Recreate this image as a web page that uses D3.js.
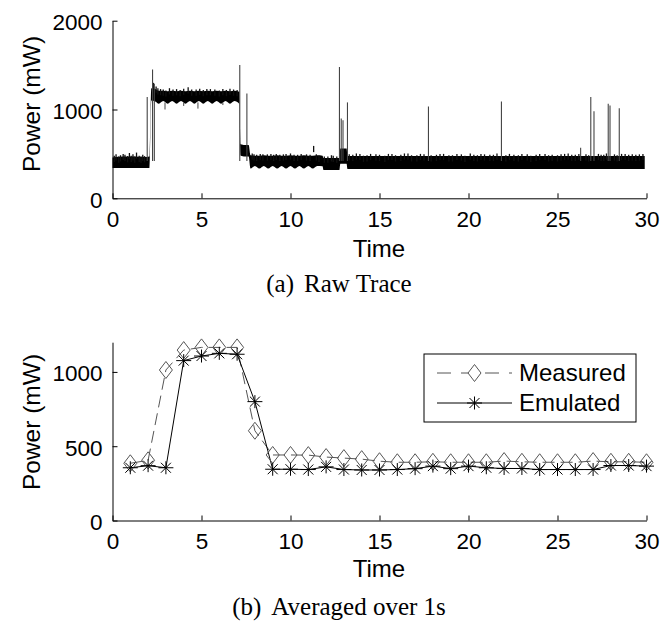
<!DOCTYPE html>
<html>
<head>
<meta charset="utf-8">
<script src="https://cdn.jsdelivr.net/npm/d3@7"></script>
<style>
  body { margin: 0; background: #fff; }
  text { font-family: "Liberation Sans", Arial, sans-serif; fill: #000; }
  .cap { font-family: "Liberation Serif", "Times New Roman", serif; }
  .ejes path, .ejes line { stroke: #000; stroke-width: 1; }
</style>
</head>
<body>
<div id="graf"></div>
<script>
// ---- panel (a): raw trace ----
// noisy band as time / low edge / high edge (mW)
var bandT  = [0, 0.6, 1.2, 1.9, 2.08, 2.18, 2.4, 2.6, 2.85, 3.1, 3.35, 3.6, 3.85, 4.1, 4.35, 4.6, 4.85, 5.1, 5.35, 5.6, 5.85, 6.1, 6.35, 6.6, 6.85, 7.12,
              7.2, 7.55, 7.65, 7.75, 8.0, 8.25, 8.5, 8.75, 9.0, 9.25, 9.5, 9.75, 10.0, 10.25, 10.5, 10.75, 11.0, 11.25, 11.5, 11.8,
              11.85, 12.75, 12.8, 13.15, 13.2, 29.9]
var bandLo = [340, 340, 340, 340, 340, 1100, 1090, 1065, 1095, 1065, 1095, 1065, 1095, 1065, 1095, 1065, 1095, 1065, 1095, 1065, 1095, 1065, 1095, 1065, 1095, 1065,
              480, 470, 470, 335, 365, 335, 365, 335, 365, 335, 365, 335, 365, 335, 365, 335, 365, 335, 365, 360,
              320, 320, 390, 390, 330, 330]
var bandHi = [460, 470, 470, 465, 470, 1240, 1230, 1210, 1210, 1205, 1210, 1205, 1210, 1205, 1210, 1205, 1210, 1205, 1210, 1205, 1210, 1205, 1210, 1205, 1210, 1200,
              610, 600, 600, 485, 480, 480, 485, 480, 480, 485, 480, 480, 485, 480, 480, 485, 480, 480, 485, 480,
              455, 455, 560, 560, 475, 475]

// tall single-sample spikes
var spikeT = [1.95, 2.25, 2.35, 7.15, 7.55, 12.75, 12.85, 12.95, 13.2, 17.75, 21.85, 26.3, 26.87, 27.05, 27.85, 27.95, 28.47]
var spikeV = [1140, 1450, 1290, 1500, 1180, 1480, 900, 880, 1080, 1035, 1090, 570, 1140, 980, 1065, 1045, 1015]

// short noise ticks along the top of the band
var noiseT = [0.1, 0.2, 0.35, 0.45, 0.6, 0.7, 0.85, 0.95, 1.05, 1.15, 1.25, 1.35, 1.5, 1.6, 1.7, 1.8,
              2.3, 2.45, 2.55, 2.7, 2.85, 3.0, 3.2, 3.4, 3.6, 3.8, 4.0, 4.25, 4.45, 4.7, 4.9, 5.1, 5.3, 5.5, 5.75, 6.0, 6.2, 6.4, 6.6, 6.8, 7.0,
              7.85, 7.95, 8.1, 8.3, 8.45, 8.7, 8.9, 9.05, 9.2, 9.4, 9.6, 9.75, 10.0, 10.2, 10.4, 10.6, 10.9, 11.1, 11.3, 11.45, 11.6, 11.9, 12.1, 12.3, 12.4, 12.6,
              13.3, 13.5, 13.7, 13.9, 14.1, 14.3, 14.5, 14.8, 15.0, 15.3, 15.5, 15.7, 15.9, 16.2, 16.4, 16.6, 16.8, 17.1, 17.3, 17.5, 17.9, 18.2, 18.4, 18.6, 18.9,
              19.1, 19.35, 19.6, 19.8, 20.1, 20.3, 20.5, 20.7, 20.9, 21.2, 21.4, 21.6, 22.1, 22.3, 22.55, 22.8, 23.0, 23.3, 23.5, 23.8, 24.0, 24.3, 24.5, 24.7,
              25.0, 25.2, 25.4, 25.6, 25.8, 26.0, 26.2, 26.6, 26.75, 27.3, 27.45, 27.6, 27.75, 28.2, 28.35, 28.6, 28.8, 29.0, 29.2, 29.4, 29.6, 29.8]
var noiseV = [480, 495, 470, 485, 500, 490, 475, 510, 480, 495, 470, 515, 480, 470, 490, 475,
              1300, 1260, 1240, 1230, 1225, 1215, 1240, 1225, 1230, 1220, 1235, 1250, 1225, 1225, 1235, 1220, 1230, 1230, 1225, 1215, 1230, 1220, 1235, 1225, 1220,
              505, 495, 490, 500, 495, 495, 500, 490, 500, 490, 495, 500, 505, 490, 490, 500, 495, 490, 590, 495, 480, 470, 470, 485, 480, 470,
              495, 490, 505, 500, 480, 485, 500, 495, 490, 480, 500, 500, 485, 490, 505, 505, 485, 485, 500, 495, 485, 490, 500, 500, 485,
              485, 500, 495, 480, 505, 490, 485, 500, 495, 490, 490, 505, 485, 500, 490, 485, 500, 495, 480, 490, 500, 500, 485, 490,
              485, 495, 500, 505, 490, 490, 500, 495, 485, 500, 490, 490, 505, 495, 485, 500, 500, 490, 495, 490, 495, 500]

// downward dips inside the high band
var dipT = [2.95, 4.0, 4.8, 6.2]
var dipV = [1000, 1040, 1010, 1050]

// ---- panel (b): averaged over 1 s ----
var segundos = [1, 2, 3, 4, 5, 6, 7, 8, 9, 10, 11, 12, 13, 14, 15, 16, 17, 18, 19, 20, 21, 22, 23, 24, 25, 26, 27, 28, 29, 30]
var measured = [385, 405, 1013, 1147, 1165, 1165, 1165, 604, 441, 441, 440, 427, 420, 413, 399, 392, 392, 395, 392, 392, 392, 400, 395, 392, 392, 392, 400, 395, 395, 392]
var emulated = [355, 369, 355, 1076, 1107, 1125, 1119, 800, 345, 345, 343, 361, 343, 340, 340, 343, 349, 366, 349, 366, 355, 350, 350, 343, 343, 343, 343, 370, 370, 366]
var series = ['Measured', 'Emulated']

var xTicks = [0, 5, 10, 15, 20, 25, 30]
var yTicksA = [0, 1000, 2000]
var yTicksB = [0, 500, 1000]

var ancho_total = 661, alto_total = 622
var svg = d3.select('#graf').append('svg')
  .attr('width', ancho_total).attr('height', alto_total)
  .style('display', 'block')

var x0 = 112.5, x1 = 646.5

// Escaladores
var x = d3.scaleLinear().domain([0, 30]).range([x0, x1])
var yA = d3.scaleLinear().domain([0, 2000]).range([198.3, 20.7])
var yB = d3.scaleLinear().domain([0, 1200]).range([520.5, 342.2])

function ejes(y, ticks, base) {
  svg.append('g').attr('class', 'ejes')
    .attr('transform', `translate(0, ${base})`)
    .call(d3.axisBottom(x).tickValues(xTicks).tickFormat(d3.format('d'))
      .tickSizeInner(-5).tickSizeOuter(0).tickPadding(13))
  var ya = svg.append('g').attr('class', 'ejes')
    .attr('transform', `translate(${x0}, 0)`)
    .call(d3.axisLeft(y).tickValues(ticks).tickFormat(d3.format('d'))
      .tickSizeInner(-5).tickSizeOuter(0).tickPadding(10))
  ya.selectAll('text').attr('dy', '0.4em')
  svg.selectAll('.ejes text').style('font-size', '22.5px')
  svg.selectAll('.ejes').attr('font-family', null).attr('font-size', null)
}

// ---- panel (a) ----
var idx = d3.range(bandT.length)
var area = d3.area()
  .curve(d3.curveMonotoneX)
  .x(i => x(bandT[i]))
  .y0(i => yA(bandLo[i]))
  .y1(i => yA(bandHi[i]))
svg.append('path').attr('d', area(idx)).attr('fill', '#000')

svg.append('g').selectAll('line').data(d3.range(noiseT.length)).join('line')
  .attr('x1', i => x(noiseT[i])).attr('x2', i => x(noiseT[i]))
  .attr('y1', i => yA(noiseV[i] - 70)).attr('y2', i => yA(noiseV[i]))
  .attr('stroke', '#111').attr('stroke-width', 1.3)

svg.append('g').selectAll('line').data(d3.range(dipT.length)).join('line')
  .attr('x1', i => x(dipT[i])).attr('x2', i => x(dipT[i]))
  .attr('y1', yA(1080)).attr('y2', i => yA(dipV[i]))
  .attr('stroke', '#444').attr('stroke-width', 1)

svg.append('g').selectAll('line').data(d3.range(spikeT.length)).join('line')
  .attr('x1', i => x(spikeT[i])).attr('x2', i => x(spikeT[i]))
  .attr('y1', yA(420)).attr('y2', i => yA(spikeV[i]))
  .attr('stroke', '#444').attr('stroke-width', 1.1)

ejes(yA, yTicksA, 198.3)

// ---- panel (b) ----
var lineM = d3.line().x((d, i) => x(segundos[i])).y(d => yB(d))
svg.append('path').attr('d', lineM(measured))
  .attr('fill', 'none').attr('stroke', '#555').attr('stroke-width', 1)
  .attr('stroke-dasharray', '12,6')
svg.append('path').attr('d', lineM(emulated))
  .attr('fill', 'none').attr('stroke', '#000').attr('stroke-width', 1)

var diamond = 'M0,-8.5L6.5,0L0,8.5L-6.5,0Z'
var aster = 'M0,-6.5V6.5M-7.5,0H7.5M-5,-5L5,5M-5,5L5,-5'

svg.append('g').selectAll('path').data(measured).join('path')
  .attr('transform', (d, i) => `translate(${x(segundos[i])}, ${yB(d)})`)
  .attr('d', diamond).attr('fill', 'none').attr('stroke', '#555').attr('stroke-width', 1)
svg.append('g').selectAll('path').data(emulated).join('path')
  .attr('transform', (d, i) => `translate(${x(segundos[i])}, ${yB(d)})`)
  .attr('d', aster).attr('fill', 'none').attr('stroke', '#000').attr('stroke-width', 1)

ejes(yB, yTicksB, 520.5)

// leyenda
var leg = svg.append('g')
leg.append('rect').attr('x', 424).attr('y', 354).attr('width', 212).attr('height', 68)
  .attr('fill', '#fff').attr('stroke', '#000').attr('stroke-width', 1)
series.forEach((s, k) => {
  var ly = 373 + k * 30
  leg.append('line').attr('x1', 437).attr('x2', 512).attr('y1', ly).attr('y2', ly)
    .attr('stroke', k ? '#000' : '#555').attr('stroke-width', 1)
    .attr('stroke-dasharray', k ? null : '14,10')
  leg.append('path').attr('transform', `translate(474.5, ${ly})`)
    .attr('d', k ? aster : diamond).attr('fill', k ? 'none' : '#fff')
    .attr('stroke', k ? '#000' : '#555').attr('stroke-width', 1)
  leg.append('text').attr('x', 519).attr('y', ly + 8).style('font-size', '24px').text(s)
})

// etiquetas
;[[104, 257, 292, '(a)', 'Raw Trace'], [422, 577, 615, '(b)', 'Averaged over 1s']].forEach(p => {
  svg.append('text').attr('transform', `translate(40, ${p[0]}) rotate(-90)`)
    .attr('text-anchor', 'middle').style('font-size', '24.5px').text('Power (mW)')
  svg.append('text').attr('x', 379).attr('y', p[1])
    .attr('text-anchor', 'middle').style('font-size', '24px').text('Time')
  var cap = svg.append('text').attr('class', 'cap').attr('x', 339).attr('y', p[2])
    .attr('text-anchor', 'middle').style('font-size', '25px')
  cap.append('tspan').text(p[3])
  cap.append('tspan').attr('dx', 10).text(p[4])
})
</script>
</body>
</html>
